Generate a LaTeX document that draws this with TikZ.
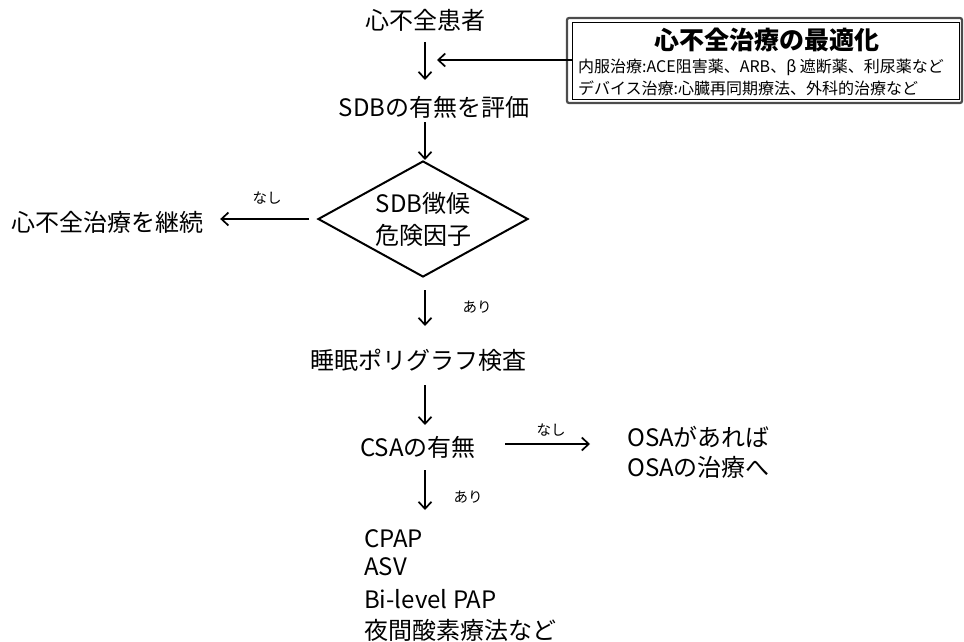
\documentclass[tikz,border=0pt]{standalone}
\usepackage{fontspec}
\setmainfont{Noto Sans CJK JP}
\usetikzlibrary{arrows.meta,shapes.geometric}
\tikzset{
  big/.style={font=\fontsize{24}{30}\selectfont, inner sep=0pt},
  lab/.style={font=\fontsize{14.5}{16}\selectfont, inner sep=0pt},
  boxline/.style={font=\fontsize{16}{18}\selectfont, anchor=west, inner sep=0pt},
  arr/.style={line width=1.8pt, -{Straight Barb[length=7pt,width=13pt,line width=1.7pt]}},
  decision/.style={diamond, draw, line width=2pt, minimum width=210pt, minimum height=116pt, inner sep=0pt, aspect=1.8, align=center, font=\fontsize{24}{32}\selectfont}
}
\begin{document}
\begin{tikzpicture}[x=1pt,y=-1pt]
\useasboundingbox (0,0) rectangle (964,642);
% optimisation box
\draw[line width=2.2pt, black!70, rounded corners=2pt] (567,18) rectangle (962,103);
\node[draw, line width=0.8pt, minimum width=387pt, minimum height=77pt, inner sep=0pt] (box) at (765.5,60.5) {};
\node[font=\fontsize{25}{28}\selectfont\bfseries, inner sep=0pt] (boxt) at (767,40) {心不全治療の最適化};
\node[boxline] (boxl1) at (578,67) {内服治療:ACE阻害薬、ARB、β 遮断薬、利尿薬など};
\node[boxline] (boxl2) at (578,88) {デバイス治療:心臓再同期療法、外科的治療など};

% main flow
\node[big] (p1) at (425,20) {心不全患者};
\node[big] (p2) at (434,107) {SDBの有無を評価};
\node[decision] (d) at (423,219) {SDB徴候\\危険因子};
\node[big] (cont) at (108,222) {心不全治療を継続};
\node[big] (psg) at (418,360) {睡眠ポリグラフ検査};
\node[big] (csa) at (418,447) {CSAの有無};
\node[big, anchor=west, align=left] (osa) at (627,452) {OSAがあれば\\OSAの治療へ};
\node[big, anchor=west] (t1) at (364,539) {CPAP};
\node[big, anchor=west] (t2) at (364,567) {ASV};
\node[big, anchor=west] (t3) at (364,599) {Bi-level PAP};
\node[big, anchor=west] (t4) at (364,630) {夜間酸素療法など};

\coordinate (c1) at (425,42);
\coordinate (c2) at (425,80);
\draw[arr] (c1) -- (c2);
\draw[arr] (box.west |- 0,60) -- (437,60);
\draw[arr] (425,122) -- (d.north -| 425,0);
\draw[arr] ([xshift=-8pt]d.west) -- ([xshift=16pt]cont.east |- d.west);
\node[lab] (n1) at (267,198) {なし};
\draw[arr] (425,290) -- (425,326);
\node[lab] (a1) at (477,307) {あり};
\draw[arr] (425,385) -- (425,425);
\draw[arr] (505,444) -- (590,444);
\node[lab] (n2) at (551,430) {なし};
\draw[arr] (425,470) -- (425,510);
\node[lab] (a2) at (468,497) {あり};
\end{tikzpicture}
\end{document}
